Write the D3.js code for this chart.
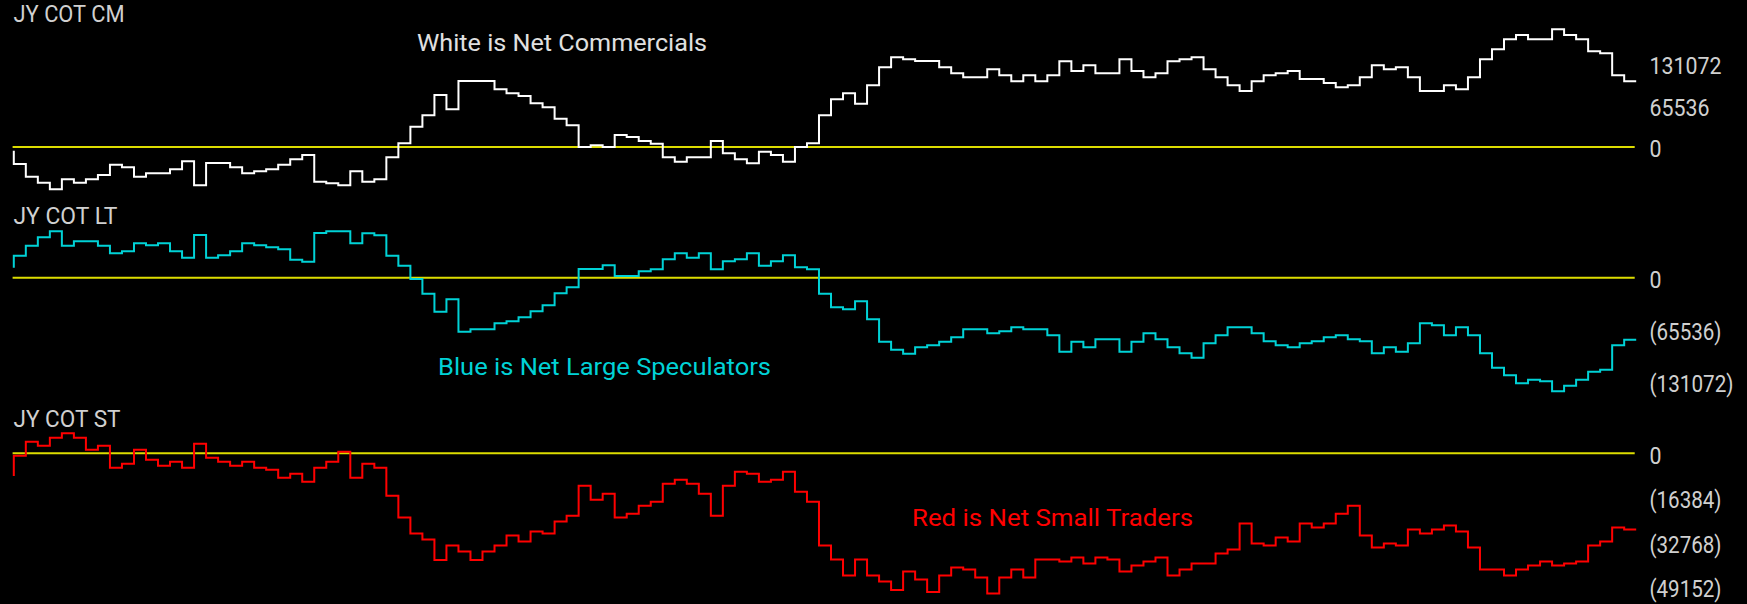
<!DOCTYPE html>
<html><head><meta charset="utf-8">
<script src="https://cdn.jsdelivr.net/npm/d3@7/dist/d3.min.js"></script>
<style>html,body{margin:0;padding:0;background:#000;overflow:hidden}</style>
</head><body>
<svg id="c" width="1747" height="604"></svg>
<script>
// Net Commercials (white), weekly
const cmValues = [-5790, -26846, -46850, -56325, -66853, -51061, -56325, -51061, -44218, -27899,
 -32110, -46850, -41586, -41586, -35269, -22635, -60536, -25267, -25267, -32110,
 -41586, -38427, -35269, -27899, -19477, -12634, -54746, -57378, -60536, -38427,
 -54746, -51061, -16318, 5790, 32110, 50008, 82118, 59483, 104227, 104227,
 104227, 91067, 84750, 80539, 68958, 62642, 44744, 34216, 0, 2632,
 0, 18950, 15792, 9475, 5264, -16318, -23162, -16318, -16318, 9475,
 -10002, -19477, -25794, -7370, -12634, -23162, 0, 5790, 50008, 75275,
 84750, 68432, 97384, 125810, 141602, 138443, 135811, 135811, 125810, 116334,
 110018, 110018, 122651, 113176, 103701, 113176, 103701, 113176, 135285, 120019,
 128968, 116334, 116334, 138443, 120019, 110018, 116334, 135285, 138443, 141602,
 122651, 110018, 97384, 88435, 103701, 113176, 116334, 120019, 107386, 107386,
 101069, 94226, 97384, 110018, 128968, 122651, 125810, 110018, 88435, 88435,
 97384, 91067, 110018, 138443, 154235, 170027, 176870, 170027, 170027, 185819,
 176870, 170027, 151077, 147918, 113176, 103701];
// Net Large Speculators (cyan)
const ltValues = [12603, 27727, 40330, 50832, 58394, 40330, 45791, 45791, 40330, 30667,
 33188, 43270, 40750, 43270, 33188, 25206, 53773, 25206, 28147, 33188,
 43270, 40750, 38229, 35709, 22685, 20165, 56293, 58394, 58394, 43270,
 55873, 53353, 27727, 15124, -1680, -20165, -42850, -27307, -68056, -65116,
 -65116, -57554, -55033, -49992, -42430, -34868, -19745, -12183, 10923, 10923,
 15544, 2100, 2100, 7982, 10503, 23106, 30667, 25206, 30667, 10503,
 20585, 23106, 30667, 15124, 20585, 28147, 13023, 10503, -20165, -37389,
 -39910, -29827, -52513, -80659, -90742, -95783, -87801, -85280, -80659, -75198,
 -65116, -65116, -70157, -67636, -62595, -65116, -65116, -72677, -93262, -80659,
 -87801, -77719, -77719, -93262, -80659, -70157, -77719, -87801, -95363, -100824,
 -82760, -72677, -62595, -62595, -70157, -80239, -85280, -87801, -82760, -80239,
 -75198, -72677, -77719, -80239, -95363, -87801, -93262, -82760, -57554, -60074,
 -72677, -62595, -72677, -95363, -113427, -123089, -133172, -128551, -130651, -143254,
 -136112, -128551, -118468, -115948, -85280, -78139];
// Net Small Traders (red)
const stValues = [-8350, -860, 4298, 2824, 5772, 7368, 5772, 1351, 2824, -5280,
 -3807, 1351, -2333, -4544, -3070, -5280, 3561, -1596, -3070, -4544,
 -3070, -5280, -6017, -8964, -7491, -10438, -5280, -3070, 614, -8964,
 -3807, -5280, -15596, -23700, -29595, -31805, -39296, -34016, -36226, -39296,
 -36226, -34016, -30332, -32542, -28858, -29595, -25174, -22964, -11912, -17069,
 -14859, -23700, -22227, -19280, -17806, -11175, -9701, -11175, -14859, -22964,
 -11912, -6754, -7491, -10438, -9701, -6754, -14122, -17806, -34016, -39173,
 -45068, -39173, -45068, -47278, -50348, -43594, -46541, -51085, -45068, -42120,
 -42857, -45804, -51699, -45804, -42857, -45804, -39173, -39173, -39910, -38436,
 -40647, -38436, -39173, -43594, -41384, -39910, -38436, -45068, -42857, -40647,
 -40647, -36963, -35489, -25911, -33279, -34016, -31068, -32542, -25911, -27384,
 -25911, -22227, -19280, -30332, -34752, -33279, -34016, -28121, -29595, -28121,
 -26648, -28858, -34752, -42857, -42857, -45068, -42857, -41384, -39910, -41384,
 -40647, -39910, -34016, -32542, -27384, -28121];

const cmTicks = [0, 65536, 131072];
const ltTicks = [0, -65536, -131072];
const stTicks = [0, -16384, -32768, -49152];

const panelTitles = ["JY COT CM", "JY COT LT", "JY COT ST"];
const notes = ["White is Net Commercials", "Blue is Net Large Speculators", "Red is Net Small Traders"];

const W = 1747, H = 604;
const FONT = "Roboto, 'DejaVu Sans', sans-serif";
const FS = 23;
const svg = d3.select("#c");
svg.append("rect").attr("width", W).attr("height", H).attr("fill", "#000");

const x = d3.scaleLinear().domain([0, cmValues.length - 1]).range([13.8, 1636.2]);
const fmt = v => v < 0 ? "(" + Math.abs(v) + ")" : String(v);
// narrow bitmap-like label widths: 12px per digit, 6px per parenthesis
const labelWidth = s => s.replace(/[()]/g, "").length * 12 + (s.match(/[()]/g) || []).length * 6;

const panels = [
  {title: panelTitles[0], titleY: 22, titleW: 111, values: cmValues, ticks: cmTicks,
   y: d3.scaleLinear().domain([0, 131072]).range([147, 64]), color: "#ffffff",
   note: notes[0], noteX: 417, noteY: 51, noteW: 290, noteColor: "#e0e0e0"},
  {title: panelTitles[1], titleY: 224, titleW: 104, values: ltValues, ticks: ltTicks,
   y: d3.scaleLinear().domain([0, -131072]).range([277.7, 381.7]), color: "#00d2d6",
   note: notes[1], noteX: 438, noteY: 374.5, noteW: 333, noteColor: "#00d2d6"},
  {title: panelTitles[2], titleY: 426.5, titleW: 107, values: stValues, ticks: stTicks,
   y: d3.scaleLinear().domain([0, -49152]).range([453.3, 586.7]), color: "#ff0000",
   note: notes[2], noteX: 912, noteY: 525.5, noteW: 281, noteColor: "#ff0000"}
];

panels.forEach(p => {
  const g = svg.append("g");
  // zero line
  g.append("line")
    .attr("x1", 12.6).attr("x2", 1634.7)
    .attr("y1", p.y(0)).attr("y2", p.y(0))
    .attr("stroke", "#dcdc00").attr("stroke-width", 2);
  // step line
  const line = d3.line().x((d, i) => x(i)).y(d => p.y(d)).curve(d3.curveStepBefore);
  g.append("path").datum(p.values)
    .attr("d", line).attr("fill", "none")
    .attr("stroke", p.color).attr("stroke-width", 2)
    .attr("stroke-linejoin", "miter");
  // title
  g.append("text").text(p.title)
    .attr("x", 13.5).attr("y", p.titleY)
    .attr("fill", "#d0d0d0").attr("font-family", FONT).attr("font-size", FS)
    .attr("textLength", p.titleW).attr("lengthAdjust", "spacingAndGlyphs");
  // note
  g.append("text").text(p.note)
    .attr("x", p.noteX).attr("y", p.noteY)
    .attr("fill", p.noteColor).attr("font-family", FONT).attr("font-size", FS)
    .attr("textLength", p.noteW).attr("lengthAdjust", "spacingAndGlyphs");
  // right axis labels
  const ax = g.append("g").attr("transform", "translate(1649.5,0)")
    .call(d3.axisRight(p.y).tickValues(p.ticks).tickFormat(fmt).tickSize(0).tickPadding(0));
  ax.select(".domain").remove();
  ax.selectAll("text")
    .attr("fill", "#d0d0d0").attr("font-family", FONT).attr("font-size", FS)
    .attr("dy", "0.43em")
    .attr("textLength", d => labelWidth(fmt(d))).attr("lengthAdjust", "spacingAndGlyphs");
});
</script>
</body></html>
